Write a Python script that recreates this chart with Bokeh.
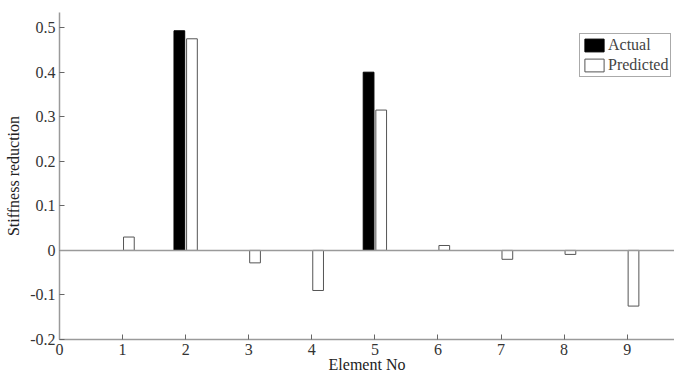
from bokeh.plotting import figure
from bokeh.models import Range1d, Span, Legend, LegendItem, FixedTicker, ColumnDataSource
from bokeh.embed import file_html
from bokeh.resources import INLINE

elements = [1, 2, 3, 4, 5, 6, 7, 8, 9]
actual = [0.0, 0.493, 0.0, 0.0, 0.40, 0.0, 0.0, 0.0, 0.0]
predicted = [0.03, 0.475, -0.028, -0.09, 0.315, 0.011, -0.02, -0.009, -0.125]
x_ticks = [0, 1, 2, 3, 4, 5, 6, 7, 8, 9]
y_ticks = [-0.2, -0.1, 0, 0.1, 0.2, 0.3, 0.4, 0.5]

FONT = "Liberation Serif"
AX = "#9a9a9a"

p = figure(width=674, height=376, output_backend="svg", toolbar_location=None,
           x_range=Range1d(0, 9.75), y_range=Range1d(-0.2, 0.534),
           min_border_left=59, min_border_right=0, min_border_top=12, min_border_bottom=37)
p.outline_line_color = None
p.xgrid.visible = False
p.ygrid.visible = False

p.add_layout(Span(location=0, dimension="width", line_color=AX, line_width=1.5))

off = 0.1
w = 0.17
act_src = ColumnDataSource(dict(
    x=[e - off for e, a in zip(elements, actual) if a != 0],
    top=[a for a in actual if a != 0]))
pred_src = ColumnDataSource(dict(x=[e + off for e in elements], top=predicted))

r_act = p.vbar(x="x", top="top", bottom=0, width=w, source=act_src,
               fill_color="black", line_color="black", line_width=1)
r_pred = p.vbar(x="x", top="top", bottom=0, width=w, source=pred_src,
                fill_color="white", line_color="#555555", line_width=1)

for ax, ticks in ((p.xaxis[0], x_ticks), (p.yaxis[0], y_ticks)):
    ax.ticker = FixedTicker(ticks=ticks)
    ax.axis_line_color = AX
    ax.axis_line_width = 1.5
    ax.major_tick_line_color = "#666666"
    ax.major_tick_in = 5
    ax.major_tick_out = 0
    ax.minor_tick_line_color = None
    ax.major_label_text_font = FONT
    ax.major_label_text_font_size = "16px"
    ax.major_label_text_color = "#333333"
    ax.axis_label_text_font = FONT
    ax.axis_label_text_font_size = "16px"
    ax.axis_label_text_font_style = "normal"
    ax.axis_label_text_color = "#222222"

p.yaxis[0].major_label_overrides = {-0.2: "-0.2", -0.1: "-0.1", 0: "0", 0.1: "0.1", 0.2: "0.2",
                                    0.3: "0.3", 0.4: "0.4", 0.5: "0.5"}
p.xaxis[0].axis_label = "Element No"
p.yaxis[0].axis_label = "Stiffness reduction"
p.xaxis[0].major_label_standoff = 4
p.xaxis[0].axis_label_standoff = -2
p.yaxis[0].major_label_standoff = 4
p.yaxis[0].axis_label_standoff = 5

legend = Legend(items=[LegendItem(label="Actual", renderers=[r_act]),
                       LegendItem(label="Predicted", renderers=[r_pred])],
                location=(520, 262), margin=0, padding=2, spacing=2,
                glyph_width=24, glyph_height=16, label_standoff=2,
                label_text_font=FONT, label_text_font_size="16px",
                label_height=18, border_line_color="#555555", border_line_width=1,
                background_fill_alpha=1)
p.add_layout(legend)

open("out.html", "w").write(file_html(p, INLINE))
